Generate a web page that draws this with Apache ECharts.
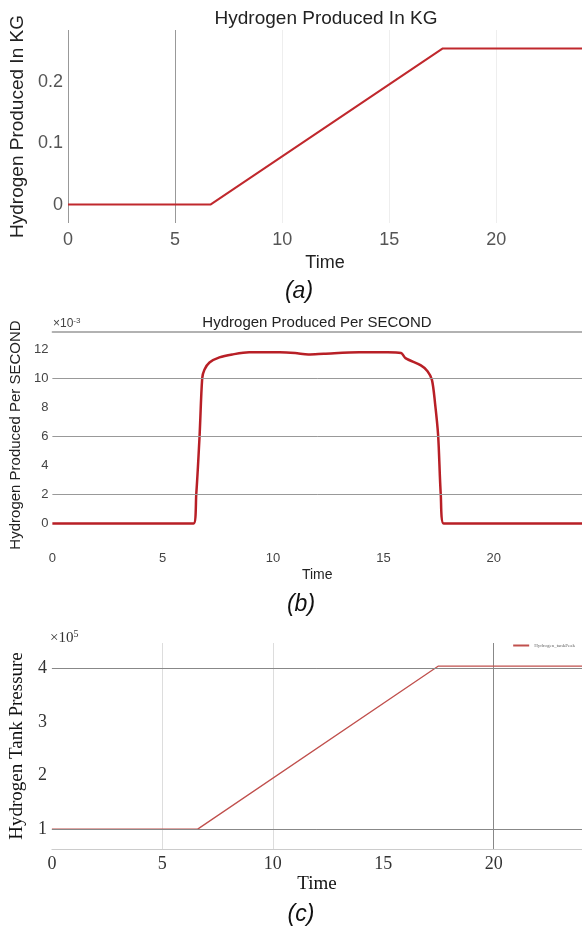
<!DOCTYPE html>
<html>
<head>
<meta charset="utf-8">
<script src="https://cdn.jsdelivr.net/npm/echarts@6/dist/echarts.min.js"></script>
<style>
html,body{margin:0;padding:0;background:#fff}
#chart{width:582px;height:928px}
</style>
</head>
<body>
<div id="chart"></div>
<script>
// (a) hydrogen produced, kg
var timeA = [0, 6.65, 17.5, 24];
var massA = [0, 0, 0.255, 0.255];

// (b) hydrogen produced per second, x1e-3
var timeB = [0, 6.40, 6.52, 6.67, 6.79, 6.89, 7.12, 7.57, 8.15, 8.92, 10.3, 11.0, 11.6, 12.3, 13.9, 15.2, 15.8, 16.0, 16.7, 17.0, 17.2, 17.34, 17.48, 17.6, 17.73, 24];
var rateB = [0, 0, 2.0, 6.0, 10.0, 10.6, 11.1, 11.45, 11.65, 11.8, 11.8, 11.75, 11.65, 11.7, 11.8, 11.8, 11.75, 11.4, 10.9, 10.5, 9.9, 8.3, 6.1, 2.0, 0, 0];

// (c) tank pressure, x1e5
var timeC = [0, 6.6, 17.5, 24];
var presC = [1, 1, 4.04, 4.04];

var xTicks = [0, 5, 10, 15, 20];
var yTicksA = [0, 0.1, 0.2];
var yTicksB = [0, 2, 4, 6, 8, 10, 12];
var yTicksC = [1, 2, 3, 4];
var gridLinesB = [2, 6, 10];
var gridLinesC = [1, 4];

var SANS = '"Liberation Sans", Arial, sans-serif';
var SERIF = '"Liberation Serif", "Times New Roman", serif';

function pairs(xs, ys) {
    return xs.map(function (x, i) { return [x, ys[i]]; });
}
function hlines(vals) {
    return vals.map(function (v) { return { yAxis: v }; });
}

var myChart = echarts.init(document.getElementById('chart'));

var option = {
    animation: false,
    backgroundColor: '#fff',
    grid: [
        { left: 68, right: -2, top: 30, height: 193 },
        { left: 52, right: -3, top: 332, height: 206 },
        { left: 49, right: -4, top: 643, height: 206 }
    ],
    legend: {
        data: ['Hydrogen_tankPeak'],
        right: 2, top: 638,
        itemWidth: 16, itemHeight: 2, itemGap: 2,
        icon: 'rect',
        textStyle: { fontSize: 5, color: '#666', fontFamily: SERIF }
    },
    xAxis: [
        {
            gridIndex: 0, type: 'value', min: 0, max: 24, interval: 5,
            name: 'Time', nameLocation: 'middle', nameGap: 31,
            nameTextStyle: { fontSize: 18, color: '#222', fontFamily: SANS },
            axisLine: { show: false }, axisTick: { show: false },
            axisLabel: { customValues: xTicks, fontSize: 18, color: '#555', margin: 8, fontFamily: SANS },
            splitLine: { show: true, showMaxLine: false, lineStyle: { color: ['#999', '#999', '#eee', '#eee', '#eee'], width: 1 } }
        },
        {
            gridIndex: 1, type: 'value', min: 0, max: 24, interval: 5,
            name: 'Time', nameLocation: 'middle', nameGap: 30,
            nameTextStyle: { fontSize: 14, color: '#222', fontFamily: SANS },
            axisLine: { show: false }, axisTick: { show: false },
            axisLabel: { customValues: xTicks, fontSize: 13, color: '#444', margin: 14, fontFamily: SANS },
            splitLine: { show: false }
        },
        {
            gridIndex: 1, type: 'value', position: 'top', min: 0, max: 24,
            axisLine: { show: true, lineStyle: { color: '#999', width: 1.5 } },
            axisTick: { show: false }, axisLabel: { show: false }, splitLine: { show: false }
        },
        {
            gridIndex: 2, type: 'value', min: 0, max: 24, interval: 5,
            name: 'Time', nameLocation: 'middle', nameGap: 26,
            nameTextStyle: { fontSize: 19, color: '#111', fontFamily: SERIF },
            axisLine: { show: true, lineStyle: { color: '#ccc' } }, axisTick: { show: false },
            axisLabel: { customValues: xTicks, fontSize: 18, color: '#333', margin: 6, fontFamily: SERIF },
            splitLine: { show: true, showMaxLine: false, lineStyle: { color: ['rgba(0,0,0,0)', '#ddd', '#ddd', 'rgba(0,0,0,0)', '#888'], width: 1 } }
        }
    ],
    yAxis: [
        {
            gridIndex: 0, type: 'value', min: -0.03, max: 0.285,
            name: 'Hydrogen Produced In KG', nameLocation: 'middle', nameGap: 28,
            nameTextStyle: { fontSize: 19, color: '#222', fontFamily: SANS },
            axisLine: { show: false }, axisTick: { show: false },
            axisLabel: { customValues: yTicksA, fontSize: 18, color: '#555', margin: 5, fontFamily: SANS },
            splitLine: { show: false }
        },
        {
            gridIndex: 1, type: 'value', min: -1, max: 13.2,
            name: 'Hydrogen Produced Per SECOND', nameLocation: 'middle', nameGap: 19,
            nameTextStyle: { fontSize: 15, color: '#222', fontFamily: SANS },
            axisLine: { show: false }, axisTick: { show: false },
            axisLabel: { customValues: yTicksB, fontSize: 13, color: '#444', margin: 4, fontFamily: SANS },
            splitLine: { show: false }
        },
        {
            gridIndex: 2, type: 'value', min: 0.63, max: 4.47,
            name: 'Hydrogen Tank Pressure', nameLocation: 'middle', nameGap: 13,
            nameTextStyle: { fontSize: 19, color: '#111', fontFamily: SERIF },
            axisLine: { show: false }, axisTick: { show: false },
            axisLabel: { customValues: yTicksC, fontSize: 18, color: '#333', margin: 5, fontFamily: SERIF },
            splitLine: { show: false }
        }
    ],
    series: [
        {
            type: 'line', xAxisIndex: 0, yAxisIndex: 0,
            data: pairs(timeA, massA), showSymbol: false,
            lineStyle: { color: '#c0282d', width: 2 }
        },
        {
            type: 'line', xAxisIndex: 1, yAxisIndex: 1,
            data: pairs(timeB, rateB), showSymbol: false, smooth: 0.3,
            lineStyle: { color: '#b81f26', width: 2.5 },
            markLine: {
                silent: true, symbol: 'none', label: { show: false },
                lineStyle: { color: '#999', type: 'solid', width: 1 },
                data: hlines(gridLinesB)
            },
            z: 3
        },
        {
            name: 'Hydrogen_tankPeak',
            type: 'line', xAxisIndex: 3, yAxisIndex: 2,
            data: pairs(timeC, presC), showSymbol: false,
            itemStyle: { color: '#c0504d' },
            lineStyle: { color: '#c0504d', width: 1.3 },
            markLine: {
                silent: true, symbol: 'none', label: { show: false },
                lineStyle: { color: '#888', type: 'solid', width: 1 },
                data: hlines(gridLinesC)
            },
            z: 3
        }
    ],
    graphic: [
        { type: 'text', x: 326, y: 19, style: { text: 'Hydrogen Produced In KG', font: '19px ' + SANS, fill: '#222', textAlign: 'center', textVerticalAlign: 'middle' } },
        { type: 'text', x: 317, y: 323, style: { text: 'Hydrogen Produced Per SECOND', font: '15px ' + SANS, fill: '#222', textAlign: 'center', textVerticalAlign: 'middle' } },
        { type: 'text', x: 53, y: 324, style: {
            text: '×10{s|-3}', font: '12px ' + SANS, fill: '#444', textVerticalAlign: 'middle',
            rich: { s: { fontSize: 8, verticalAlign: 'top', padding: [0, 0, 6, 0] } } } },
        { type: 'text', x: 50, y: 638, style: {
            text: '×10{s|5}', font: '15px ' + SERIF, fill: '#333', textVerticalAlign: 'middle',
            rich: { s: { fontSize: 10, fontFamily: SERIF, padding: [0, 0, 8, 0] } } } },
        { type: 'text', x: 299, y: 292, style: { text: '(a)', font: 'italic 23px ' + SANS, fill: '#111', textAlign: 'center', textVerticalAlign: 'middle' } },
        { type: 'text', x: 301, y: 605, style: { text: '(b)', font: 'italic 23px ' + SANS, fill: '#111', textAlign: 'center', textVerticalAlign: 'middle' } },
        { type: 'text', x: 301, y: 915, style: { text: '(c)', font: 'italic 23px ' + SANS, fill: '#111', textAlign: 'center', textVerticalAlign: 'middle' } }
    ]
};

myChart.setOption(option);
</script>
</body>
</html>
